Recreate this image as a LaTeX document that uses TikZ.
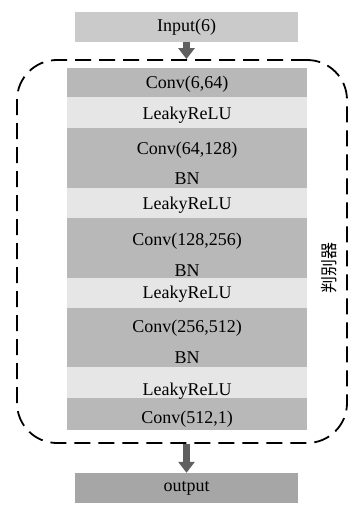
\documentclass[tikz,border=0pt]{standalone}
\usepackage{fontspec}
\setmainfont{Liberation Serif}
\newfontfamily\cjk{Noto Sans CJK SC}
\usetikzlibrary{arrows.meta}
\definecolor{darkblk}{HTML}{B8B8B8}
\definecolor{lightblk}{HTML}{E6E6E6}
\definecolor{inblk}{HTML}{CACACA}
\definecolor{outblk}{HTML}{A6A6A6}
\definecolor{arrowc}{HTML}{606060}
\tikzset{
  blk/.style={rectangle, inner sep=0pt, minimum width=240pt},
  io/.style={rectangle, inner sep=0pt, minimum width=223pt, minimum height=30pt, font=\fontsize{18}{20}\selectfont},
  txt/.style={inner sep=0pt, font=\fontsize{18}{20}\selectfont},
  blockarrow/.style={draw=arrowc, line width=7pt, -{Triangle[width=16pt,length=11pt]}},
}
\begin{document}
\begin{tikzpicture}[x=1pt,y=-1pt]
\useasboundingbox (0,0) rectangle (350,505);
% input / output
\node[io, fill=inblk] (input) at (186.5,27) {Input(6)};
\node[io, fill=outblk] (output) at (186.5,488) {output};
% layer blocks
\node[blk, fill=darkblk, minimum height=29pt] (c1) at (187,82.5) {};
\node[blk, fill=lightblk, minimum height=31pt] (l1) at (187,112.5) {};
\node[blk, fill=darkblk, minimum height=60pt] (c2) at (187,158) {};
\node[blk, fill=lightblk, minimum height=30pt] (l2) at (187,203) {};
\node[blk, fill=darkblk, minimum height=60pt] (c3) at (187,248) {};
\node[blk, fill=lightblk, minimum height=30pt] (l3) at (187,293) {};
\node[blk, fill=darkblk, minimum height=59pt] (c4) at (187,337.5) {};
\node[blk, fill=lightblk, minimum height=31pt] (l4) at (187,382.5) {};
\node[blk, fill=darkblk, minimum height=32pt] (c5) at (187,414) {};
% texts
\node[txt] (t1) at (187,84) {Conv(6,64)};
\node[txt] (t2) at (187,115) {LeakyReLU};
\node[txt] (t3) at (187,150) {Conv(64,128)};
\node[txt] (t4) at (187,179) {BN};
\node[txt] (t5) at (187,205) {LeakyReLU};
\node[txt] (t6) at (187,241) {Conv(128,256)};
\node[txt] (t7) at (187,271) {BN};
\node[txt] (t8) at (187,294) {LeakyReLU};
\node[txt] (t9) at (187,328) {Conv(256,512)};
\node[txt] (t10) at (187,358) {BN};
\node[txt] (t11) at (187,391) {LeakyReLU};
\node[txt] (t12) at (187,419) {Conv(512,1)};
% dashed frame
\node[rectangle, draw=black, line width=1.8pt, dash pattern=on 16pt off 8pt, rounded corners=40pt, minimum width=330pt, minimum height=383pt, inner sep=0pt] (frame) at (182,251.5) {};
% label
\node[rotate=90, inner sep=0pt, font=\cjk\fontsize{17}{17}\selectfont] (lbl) at (329,268) {判别器};
% arrows
\draw[blockarrow] (input.south) -- (input.south |- frame.north);
\draw[blockarrow] (output.north |- frame.south) -- (output.north);
\end{tikzpicture}
\end{document}
